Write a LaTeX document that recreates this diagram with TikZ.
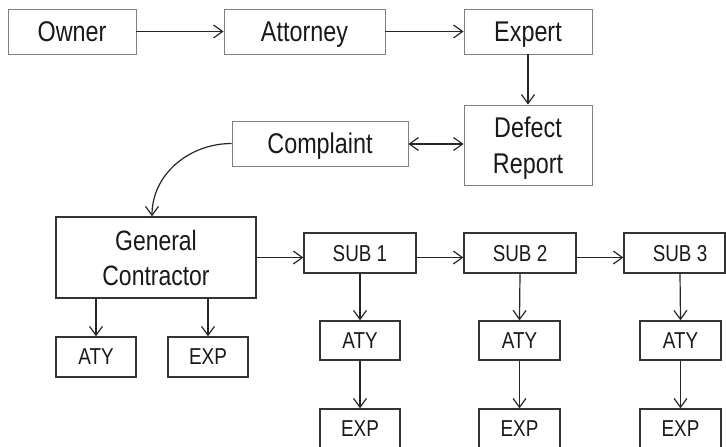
\documentclass[tikz,border=0pt]{standalone}
\usepackage{fontspec}
\setmainfont{Liberation Sans}[FakeStretch=0.82]
\usetikzlibrary{arrows.meta}
\begin{document}
\begin{tikzpicture}[x=1pt,y=-1pt,
  topbox/.style={draw=black!50, line width=0.9pt, inner sep=0pt, align=center, text depth=0pt,
    font=\fontsize{28.5}{36}\selectfont, text=black!90},
  lowbox/.style={draw=black!80, line width=1.3pt, inner sep=0pt, align=center, text depth=0pt,
    font=\fontsize{23}{27}\selectfont, text=black!90},
  gcbox/.style={lowbox, font=\fontsize{28}{35}\selectfont},
  conn/.style={draw=black!85, line width=1.2pt, -{Straight Barb[length=9pt,width=13pt,line width=1.2pt]}},
  dconn/.style={draw=black!85, line width=1.2pt, {Straight Barb[length=9pt,width=13pt,line width=1.2pt]}-{Straight Barb[length=9pt,width=13pt,line width=1.2pt]}}
]
\useasboundingbox (0,0) rectangle (726,447);
% top row
\node[topbox, minimum width=128pt, minimum height=45pt] (owner) at (72,31.5) {Owner};
\node[topbox, minimum width=161pt, minimum height=45pt] (attorney) at (304.5,31.5) {Attorney};
\node[topbox, minimum width=128pt, minimum height=45pt] (expert) at (528,31.5) {Expert};
\node[topbox, minimum width=128pt, minimum height=80pt] (defect) at (528,145) {Defect\\Report};
\node[topbox, minimum width=176pt, minimum height=45pt] (complaint) at (320,143.5) {Complaint};
% general contractor
\node[gcbox, minimum width=200pt, minimum height=81pt] (gc) at (156,257.5) {General\\Contractor};
\node[lowbox, minimum width=80pt, minimum height=40pt] (gcaty) at (96,357) {ATY};
\node[lowbox, minimum width=80pt, minimum height=40pt] (gcexp) at (208,357) {EXP};
% subs
\node[lowbox, minimum width=112pt, minimum height=40pt] (sub1) at (360,253) {SUB 1};
\node[lowbox, minimum width=112pt, minimum height=40pt] (sub2) at (520,253) {SUB 2};
\node[lowbox, minimum width=101pt, minimum height=40pt] (sub3) at (674.5,253) {\hspace*{11pt}SUB 3};
\node[lowbox, minimum width=80pt, minimum height=39pt] (aty1) at (360,340.5) {ATY};
\node[lowbox, minimum width=81pt, minimum height=39pt] (aty2) at (519.5,340.5) {ATY};
\node[lowbox, minimum width=81pt, minimum height=39pt] (aty3) at (680.5,340.5) {ATY};
\node[lowbox, minimum width=80pt, minimum height=40pt] (exp1) at (360,429) {EXP};
\node[lowbox, minimum width=81pt, minimum height=40pt] (exp2) at (519.5,429) {EXP};
\node[lowbox, minimum width=81pt, minimum height=40pt] (exp3) at (680.5,429) {EXP};
\coordinate (s3c) at (680,273);
% connectors
\draw[conn] (owner.east) -- (attorney.west);
\draw[conn] (attorney.east) -- (expert.west);
\draw[conn] (expert.south) -- (defect.north);
\draw[dconn] (complaint.east |- 0,144) -- (defect.west |- 0,144);
\draw[conn] (complaint.west) to[out=180,in=90] (gc.north -| 152,0);
\draw[conn] (gc.east) -- (sub1.west |- gc.east);
\draw[conn] (sub1.east |- gc.east) -- (sub2.west |- gc.east);
\draw[conn] (sub2.east |- gc.east) -- (sub3.west |- gc.east);
\draw[conn] (gc.south -| gcaty.north) -- (gcaty.north);
\draw[conn] (gc.south -| gcexp.north) -- (gcexp.north);
\draw[conn] (sub1.south) -- (aty1.north);
\draw[conn] (aty1.south) -- (exp1.north);
\draw[conn] (sub2.south) -- (aty2.north);
\draw[conn] (aty2.south) -- (exp2.north);
\draw[conn] (s3c) -- (aty3.north);
\draw[conn] (aty3.south) -- (exp3.north);
\end{tikzpicture}
\end{document}
